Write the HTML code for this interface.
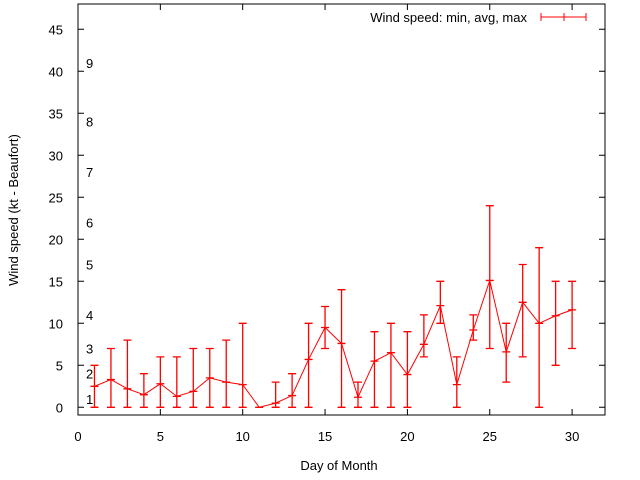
<!DOCTYPE html>
<html><head><meta charset="utf-8"><style>
body{margin:0;background:#fff}
svg{display:block;font-family:"Liberation Sans",sans-serif;font-size:13px}
</style></head><body>
<svg id="chart" width="640" height="480" viewBox="0 0 640 480"></svg>
<script>
const days=[1,2,3,4,5,6,7,8,9,10,11,12,13,14,15,16,17,18,19,20,21,22,23,24,25,26,27,28,29,30];
const avgSpeed=[2.5,3.3,2.2,1.5,2.8,1.3,1.9,3.5,3.0,2.7,0,0.5,1.4,5.7,9.5,7.6,1.2,5.5,6.5,3.9,7.5,12.1,2.7,9.2,15.1,6.6,12.5,10,10.9,11.6];
const minSpeed=[0,0,0,0,0,0,0,0,0,0,0,0,0,0,7,0,0,0,0,0,6,10,0,8,7,3,6,0,5,7];
const maxSpeed=[5,7,8,4,6,6,7,7,8,10,0,3,4,10,12,14,3,9,10,9,11,15,6,11,24,10,17,19,15,15];
const xTicks=[0,5,10,15,20,25,30];
const yTicks=[0,5,10,15,20,25,30,35,40,45];
const beaufort=[1,2,3,4,5,6,7,8,9];
const beaufortKt=[1,4,7,11,17,22,28,34,41];
const L=78,R=605,T=4,B=415;
const X=v=>78+v*16.47;
const Y=v=>407.3-v*8.4;
const svg=document.getElementById('chart');
const NS='http://www.w3.org/2000/svg';
function mk(tag,attrs,parent){const e=document.createElementNS(NS,tag);for(const k in attrs)e.setAttribute(k,attrs[k]);(parent||svg).appendChild(e);return e;}
const frame=mk('rect',{x:L,y:T,width:R-L,height:B-T,fill:'none',stroke:'#000','stroke-width':1});


yTicks.forEach(v=>{
  const y=Y(v);
  const t=mk('path',{d:`M${L} ${y}h6M${R} ${y}h-6`,stroke:'#000'});
  
  
  const l=mk('text',{x:63,y:y+5,'text-anchor':'end',fill:'#000'});l.textContent=v;
  
  
});
xTicks.forEach(v=>{
  const x=X(v);
  const t=mk('path',{d:`M${x} ${B}v-6M${x} ${T}v6`,stroke:'#000'});
  
  
  const l=mk('text',{x:x,y:441,'text-anchor':'middle',fill:'#000'});l.textContent=v;
  
  
});
beaufort.forEach((b,i)=>{
  const l=mk('text',{x:86,y:Y(beaufortKt[i])+5,fill:'#000'});l.textContent=b;
  
  
});
const yt=mk('text',{x:18,y:210,'text-anchor':'middle',transform:'rotate(-90 18 210)',fill:'#000'});yt.textContent='Wind speed (kt - Beaufort)';


const xt=mk('text',{x:339,y:470,'text-anchor':'middle',fill:'#000'});xt.textContent='Day of Month';


// series
const line=mk('polyline',{points:days.map((d,i)=>X(d)+','+Y(avgSpeed[i])).join(' '),fill:'none',stroke:'#f00','stroke-width':1});


days.forEach((d,i)=>{
  const x=X(d),y1=Y(minSpeed[i]),y2=Y(maxSpeed[i]),ya=Y(avgSpeed[i]);
  const e=mk('path',{d:`M${x} ${y1}V${y2}M${x-4} ${y1}h8M${x-4} ${y2}h8M${x-4} ${ya}h8`,stroke:'#f00','stroke-width':1.3,fill:'none'});
  
  
});
const lg=mk('text',{x:527,y:22,'text-anchor':'end',fill:'#000'});lg.textContent='Wind speed: min, avg, max';


const ls=mk('path',{d:'M541 17H586M541 13v8M564 13v8M586 13v8',stroke:'#f00','stroke-width':1});


</script>
</body></html>
